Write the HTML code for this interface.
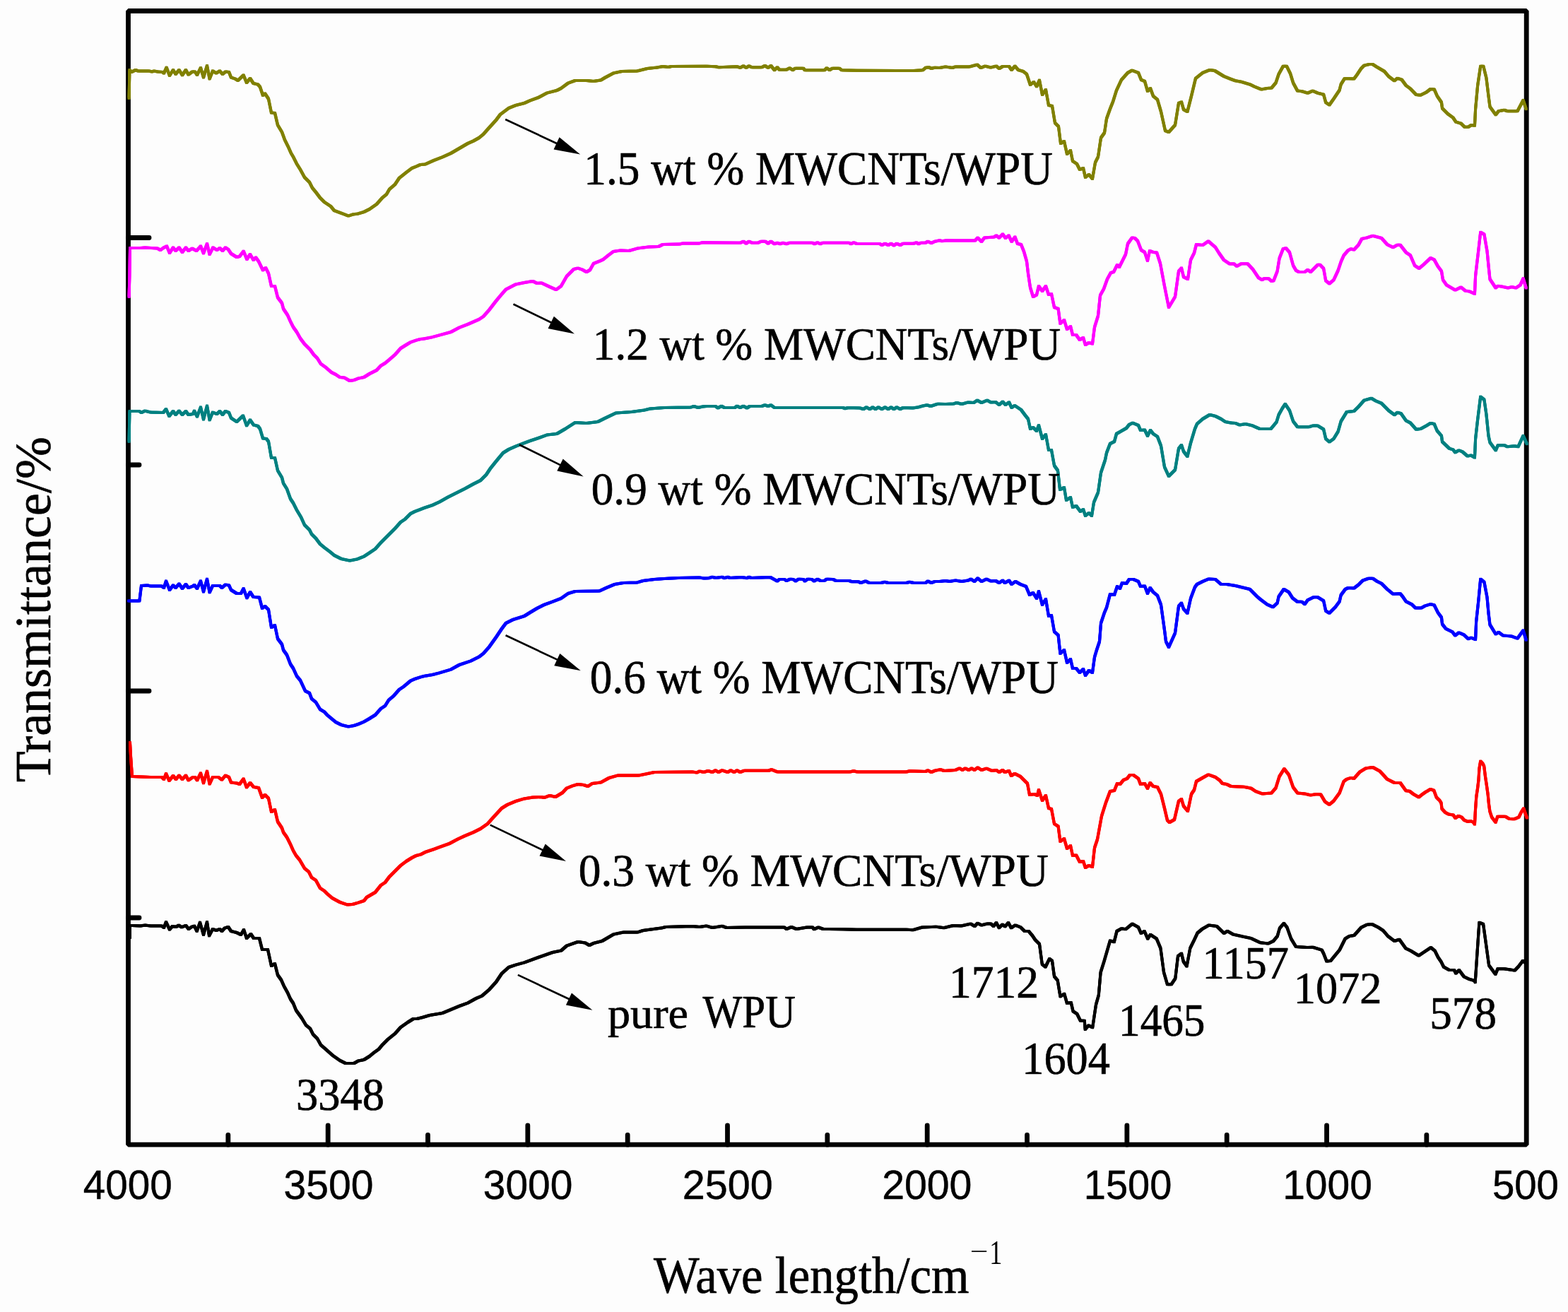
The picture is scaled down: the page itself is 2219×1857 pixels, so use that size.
<!DOCTYPE html><html><head><meta charset="utf-8"><title>FTIR spectra</title><style>html,body{margin:0;padding:0;background:#fdfdfd;overflow:hidden}svg{display:block}</style></head><body><svg width="2219" height="1857" viewBox="0 0 2219 1857"><rect width="2219" height="1857" fill="#fdfdfd"/><path d="M181.5,15.5 H2160.2 V1620.2 H181.5 Z" fill="none" stroke="#000" stroke-width="6.8" stroke-linejoin="bevel"/><g stroke="#000" stroke-width="6.8" stroke-linecap="round"><line x1="322.84" y1="1620.2" x2="322.84" y2="1606.5" /><line x1="464.17" y1="1620.2" x2="464.17" y2="1593.0" /><line x1="605.51" y1="1620.2" x2="605.51" y2="1606.5" /><line x1="746.84" y1="1620.2" x2="746.84" y2="1593.0" /><line x1="888.18" y1="1620.2" x2="888.18" y2="1606.5" /><line x1="1029.51" y1="1620.2" x2="1029.51" y2="1593.0" /><line x1="1170.85" y1="1620.2" x2="1170.85" y2="1606.5" /><line x1="1312.19" y1="1620.2" x2="1312.19" y2="1593.0" /><line x1="1453.52" y1="1620.2" x2="1453.52" y2="1606.5" /><line x1="1594.86" y1="1620.2" x2="1594.86" y2="1593.0" /><line x1="1736.19" y1="1620.2" x2="1736.19" y2="1606.5" /><line x1="1877.53" y1="1620.2" x2="1877.53" y2="1593.0" /><line x1="2018.86" y1="1620.2" x2="2018.86" y2="1606.5" /><line x1="181.5" y1="336.5" x2="211.0" y2="336.5" /><line x1="181.5" y1="658" x2="197.0" y2="658" /><line x1="181.5" y1="978" x2="211.0" y2="978" /><line x1="181.5" y1="1299" x2="197.0" y2="1299" /></g><defs><path id="c0" d="M182.6,139.0 L183.4,99.0 L186.0,102.0 L192.0,99.0 L195.0,100.4 L211.0,100.4 L215.0,101.6 L218.0,100.4 L223.0,101.6 L230.0,102.0 L232.0,103.6 L235.6,95.6 L240.0,107.0 L245.0,99.0 L248.6,105.0 L253.4,99.0 L258.0,106.4 L263.0,99.0 L266.6,105.6 L272.0,101.6 L276.0,101.6 L279.0,106.0 L284.0,96.0 L288.0,109.6 L293.0,93.0 L296.6,111.6 L301.0,100.4 L306.0,103.6 L311.0,100.4 L315.0,105.0 L319.0,101.6 L324.0,102.0 L327.0,109.6 L333.0,111.6 L336.6,114.0 L344.6,106.4 L349.0,117.0 L354.0,111.0 L358.6,118.0 L365.0,119.6 L368.0,123.0 L372.0,135.0 L375.0,132.4 L380.0,140.0 L384.0,159.6 L389.0,160.0 L393.0,177.0 L399.0,187.0 L403.0,198.0 L408.0,208.0 L412.0,217.0 L415.0,222.0 L420.0,232.0 L425.0,240.0 L431.0,251.0 L438.0,258.0 L442.0,266.0 L447.0,272.0 L453.0,280.0 L459.0,286.0 L468.0,292.0 L473.0,298.0 L481.0,301.0 L488.0,303.6 L493.0,305.6 L499.0,303.6 L507.0,302.4 L515.0,300.0 L523.0,296.0 L533.0,289.0 L541.0,280.0 L547.0,275.0 L551.0,268.0 L559.0,261.0 L565.0,252.0 L575.0,244.0 L583.0,238.0 L589.0,235.6 L595.0,233.0 L602.0,232.4 L614.0,227.0 L626.0,222.4 L638.0,217.0 L650.0,210.0 L662.0,203.0 L670.0,199.5 L678.0,195.0 L684.0,190.0 L692.0,181.0 L702.0,170.0 L708.0,162.0 L720.0,153.0 L730.0,149.0 L742.0,146.0 L750.0,142.4 L762.0,138.0 L774.0,131.6 L788.0,128.0 L794.0,125.0 L804.0,117.6 L814.0,114.0 L830.0,114.0 L840.0,115.0 L850.0,113.6 L856.0,110.0 L868.0,103.6 L880.0,101.0 L902.0,100.4 L916.0,97.0 L930.0,95.6 L938.0,94.0 L946.0,95.0 L950.0,94.0 L1000.0,93.7 L1013.0,94.2 L1017.0,95.3 L1043.0,94.2 L1047.5,95.8 L1052.0,93.3 L1056.0,95.8 L1060.0,93.3 L1064.0,95.3 L1078.0,95.3 L1082.5,93.0 L1087.0,95.8 L1091.0,93.0 L1096.0,99.2 L1100.0,95.3 L1103.0,98.7 L1113.0,98.7 L1117.5,96.3 L1122.0,99.2 L1125.0,96.7 L1137.0,96.7 L1139.0,99.2 L1167.0,99.2 L1170.0,96.3 L1174.0,99.2 L1178.0,96.7 L1188.0,96.7 L1191.0,99.2 L1212.0,99.7 L1283.0,100.0 L1293.0,100.0 L1306.0,99.2 L1310.0,95.8 L1315.0,95.3 L1318.0,97.0 L1322.0,95.8 L1330.0,96.0 L1338.0,94.4 L1348.0,96.0 L1352.0,94.4 L1372.0,94.4 L1383.0,91.6 L1388.0,96.0 L1394.0,93.6 L1402.0,95.6 L1410.0,93.6 L1414.0,97.0 L1419.0,94.0 L1428.0,94.0 L1431.6,99.0 L1436.4,93.6 L1441.0,99.0 L1448.0,101.0 L1453.0,105.0 L1458.0,120.0 L1463.0,116.0 L1467.0,122.4 L1471.0,113.6 L1475.0,134.0 L1480.0,127.0 L1484.0,149.0 L1489.0,150.0 L1493.0,174.0 L1498.0,179.0 L1501.0,203.0 L1506.0,200.0 L1510.0,218.0 L1515.0,213.0 L1518.0,228.0 L1524.0,232.0 L1528.0,240.0 L1533.0,238.0 L1536.0,251.0 L1541.0,247.0 L1546.0,253.0 L1550.0,230.0 L1554.0,222.0 L1558.0,195.0 L1563.0,188.0 L1566.0,168.0 L1571.0,154.0 L1575.0,144.0 L1580.0,128.0 L1587.0,113.0 L1596.0,103.0 L1602.0,99.6 L1611.0,103.0 L1615.0,113.0 L1620.0,115.0 L1624.0,129.0 L1628.0,125.0 L1632.0,136.0 L1638.0,141.0 L1643.0,158.0 L1649.0,185.0 L1654.0,187.0 L1663.0,177.0 L1668.0,146.0 L1672.0,144.4 L1675.0,155.0 L1680.4,158.0 L1686.0,136.0 L1692.0,111.0 L1702.0,103.0 L1712.0,99.0 L1719.0,100.0 L1732.0,108.0 L1742.0,112.0 L1748.2,114.3 L1756.4,115.7 L1769.7,119.8 L1774.8,122.4 L1785.0,126.5 L1793.2,125.1 L1799.4,124.5 L1805.5,117.3 L1809.6,105.0 L1815.8,93.8 L1820.9,93.8 L1826.0,104.0 L1830.1,117.3 L1836.2,128.6 L1842.4,129.2 L1850.6,131.7 L1857.7,128.6 L1864.9,131.7 L1873.1,133.7 L1876.2,145.0 L1881.3,148.5 L1887.4,139.9 L1895.6,127.6 L1897.7,119.4 L1902.8,111.2 L1908.9,111.2 L1916.1,111.6 L1920.2,106.1 L1926.3,96.9 L1930.4,92.8 L1937.6,91.1 L1942.7,91.1 L1947.8,94.4 L1959.1,101.0 L1965.2,108.1 L1973.4,114.3 L1977.5,110.8 L1983.7,112.8 L1989.8,121.0 L1995.9,125.5 L2004.1,134.1 L2010.3,134.7 L2018.5,130.6 L2024.6,125.9 L2029.7,126.5 L2033.8,135.8 L2040.0,145.0 L2041.0,153.2 L2049.2,161.4 L2056.3,166.5 L2060.4,172.6 L2067.6,174.7 L2072.7,179.8 L2077.8,179.8 L2081.9,177.1 L2087.0,177.7 L2088.1,154.2 L2091.1,121.4 L2095.2,93.8 L2099.3,93.8 L2103.4,110.2 L2106.5,135.8 L2108.5,151.1 L2116.7,162.4 L2120.8,157.3 L2129.0,155.8 L2133.1,157.3 L2147.5,157.3 L2155.6,141.9 L2159.7,154.2"/><path id="c1" d="M182.6,420.0 L183.4,390.0 L184.0,351.0 L187.0,351.0 L199.0,351.0 L205.0,350.4 L223.0,351.6 L227.0,354.0 L231.0,351.0 L236.0,348.4 L240.0,358.0 L245.0,350.4 L248.6,355.0 L253.4,350.4 L258.0,357.0 L263.0,350.4 L266.6,355.0 L272.0,351.6 L278.0,355.0 L284.0,348.4 L288.0,358.4 L293.0,345.0 L296.6,360.0 L301.4,350.4 L307.0,354.0 L311.0,351.0 L315.0,355.0 L319.0,350.4 L323.0,353.0 L327.0,359.0 L335.0,364.0 L339.0,363.0 L344.6,355.6 L349.4,367.0 L354.0,360.0 L358.6,368.0 L362.0,364.4 L366.0,370.0 L372.0,382.4 L376.0,379.0 L380.0,387.0 L384.0,405.0 L389.0,405.0 L393.0,421.0 L399.0,429.0 L401.0,437.0 L407.0,446.0 L411.0,455.0 L415.0,463.0 L420.0,470.0 L425.0,479.0 L431.0,487.0 L439.0,495.0 L444.0,502.0 L449.0,507.0 L454.0,515.0 L461.0,520.0 L469.0,527.0 L475.0,530.0 L481.0,534.0 L487.0,534.4 L495.0,539.0 L501.0,538.0 L507.0,535.6 L515.0,534.0 L523.0,529.0 L533.0,524.0 L539.0,517.6 L545.0,514.0 L551.0,509.0 L559.0,502.0 L567.0,493.0 L575.0,488.0 L581.0,484.4 L589.0,481.6 L595.0,480.0 L600.0,479.6 L610.0,477.6 L622.0,474.4 L638.0,470.0 L650.0,463.6 L662.0,459.0 L678.0,452.0 L684.0,448.0 L692.0,439.0 L702.0,426.0 L710.0,416.4 L716.0,409.6 L730.0,402.4 L742.0,400.0 L754.0,398.0 L760.0,401.0 L766.0,400.4 L778.0,406.0 L787.0,410.0 L794.0,405.0 L802.0,391.0 L812.0,381.0 L818.0,379.6 L824.0,381.6 L830.0,385.0 L835.0,382.0 L840.0,373.0 L850.0,369.0 L854.0,367.0 L860.0,362.0 L868.0,356.0 L878.0,354.4 L890.0,355.0 L902.0,351.6 L918.0,349.6 L932.0,349.0 L938.0,346.0 L962.0,345.6 L966.0,344.4 L990.0,344.4 L994.0,343.2 L1048.0,343.7 L1052.0,341.7 L1056.0,344.7 L1060.0,341.7 L1064.0,343.7 L1073.0,343.7 L1077.0,341.7 L1083.0,341.7 L1087.0,344.7 L1091.0,341.7 L1096.0,345.3 L1100.0,343.7 L1104.0,345.3 L1108.0,343.7 L1113.0,345.3 L1117.0,343.7 L1150.0,343.7 L1152.5,345.3 L1157.0,343.3 L1161.0,345.3 L1164.0,343.7 L1202.0,343.7 L1204.0,345.3 L1208.0,343.3 L1212.5,345.0 L1245.0,345.0 L1248.0,347.0 L1252.5,344.7 L1257.0,347.0 L1261.0,344.7 L1265.0,347.5 L1269.0,344.7 L1274.0,347.0 L1278.0,344.7 L1293.0,344.7 L1297.0,343.3 L1300.0,345.3 L1303.0,343.7 L1310.0,343.7 L1313.0,341.7 L1318.0,344.2 L1323.0,341.7 L1330.0,340.3 L1333.0,341.3 L1340.0,340.3 L1350.0,340.6 L1380.0,340.6 L1383.6,336.6 L1389.0,342.0 L1393.0,336.6 L1407.0,335.4 L1410.0,333.4 L1414.0,336.6 L1419.0,331.4 L1423.0,337.0 L1427.6,333.4 L1431.6,342.0 L1436.4,335.4 L1440.0,345.0 L1445.0,346.0 L1449.0,356.0 L1453.0,370.0 L1455.0,387.0 L1458.0,407.0 L1462.0,420.0 L1467.0,417.4 L1470.0,405.0 L1475.0,412.0 L1480.0,405.0 L1484.0,417.0 L1488.0,416.0 L1492.0,435.0 L1497.6,437.0 L1500.4,458.0 L1506.0,453.0 L1510.0,466.0 L1515.0,462.0 L1518.0,474.0 L1523.0,474.0 L1528.0,481.0 L1533.0,478.0 L1536.0,488.0 L1541.0,485.0 L1546.0,486.6 L1549.0,463.0 L1554.0,447.0 L1557.0,418.0 L1562.0,409.0 L1567.0,395.0 L1572.0,386.0 L1576.0,385.0 L1581.0,375.0 L1584.0,378.0 L1590.0,366.0 L1593.0,360.0 L1596.0,345.0 L1602.0,336.6 L1606.0,337.0 L1610.0,341.0 L1615.0,354.0 L1620.0,357.0 L1624.0,369.0 L1627.0,355.0 L1632.0,357.0 L1637.0,357.4 L1642.0,373.0 L1648.0,405.0 L1654.0,435.0 L1663.0,420.0 L1668.0,384.0 L1672.0,379.4 L1675.0,392.0 L1681.0,395.0 L1685.0,368.0 L1690.0,358.0 L1693.0,346.0 L1702.0,347.0 L1710.0,341.4 L1720.0,350.0 L1725.0,358.0 L1732.0,368.0 L1740.0,373.4 L1746.1,373.3 L1750.2,376.8 L1756.4,373.3 L1765.6,373.3 L1772.8,380.9 L1781.0,393.2 L1786.1,396.2 L1789.1,394.2 L1795.3,394.2 L1799.4,397.9 L1802.4,397.3 L1807.6,383.9 L1810.6,365.5 L1815.8,352.2 L1819.9,351.2 L1825.0,357.3 L1830.1,375.8 L1834.2,382.9 L1838.3,385.0 L1846.5,385.0 L1850.6,381.9 L1854.7,385.0 L1864.9,374.7 L1868.0,374.7 L1873.1,379.9 L1876.2,397.3 L1881.3,401.4 L1887.4,396.2 L1893.6,382.9 L1897.7,370.6 L1901.7,361.4 L1907.9,354.3 L1912.0,352.2 L1916.1,353.6 L1922.2,347.1 L1927.3,337.9 L1934.5,336.4 L1942.7,333.8 L1955.0,336.9 L1963.2,346.1 L1971.4,350.2 L1977.5,346.7 L1981.6,346.7 L1989.8,357.3 L1995.9,361.4 L2002.1,375.8 L2008.2,379.9 L2014.4,374.7 L2024.6,365.1 L2029.7,367.6 L2034.8,376.8 L2040.0,383.9 L2042.0,396.2 L2047.1,403.4 L2059.4,410.6 L2067.6,406.5 L2073.7,411.6 L2079.9,412.6 L2087.0,415.7 L2088.1,390.1 L2092.2,355.3 L2095.2,328.7 L2100.4,331.7 L2104.5,355.3 L2106.5,375.8 L2108.5,395.2 L2116.7,407.5 L2119.8,404.8 L2124.9,405.4 L2134.1,407.5 L2139.3,406.1 L2145.4,407.5 L2151.5,403.4 L2155.6,394.2 L2159.7,407.5"/><path id="c2" d="M182.6,625.0 L183.4,582.0 L187.0,582.0 L197.0,582.0 L200.0,584.0 L205.0,581.6 L213.0,583.6 L231.0,584.0 L235.0,579.0 L239.4,589.0 L245.0,582.0 L248.6,587.0 L253.4,581.6 L258.0,587.0 L263.0,582.0 L266.6,587.0 L273.0,586.0 L275.0,581.6 L279.0,589.6 L284.0,576.4 L288.0,593.6 L293.0,574.4 L296.6,594.4 L301.0,583.6 L307.0,586.0 L311.0,582.0 L315.0,587.0 L319.0,582.0 L324.0,584.0 L327.0,591.6 L335.0,597.0 L344.0,588.4 L349.0,602.4 L354.0,594.4 L359.0,601.6 L365.0,603.0 L368.0,607.0 L372.0,620.4 L377.0,621.0 L380.0,625.0 L384.0,648.0 L389.0,648.0 L393.0,666.0 L399.0,676.0 L401.0,684.0 L406.0,692.0 L411.0,706.0 L415.0,712.0 L420.0,722.0 L426.0,732.0 L431.0,743.0 L438.0,750.0 L441.0,756.0 L447.0,762.0 L453.0,770.0 L459.0,775.0 L467.0,781.0 L473.0,786.0 L483.0,791.0 L495.0,793.6 L505.0,791.6 L515.0,787.6 L523.0,782.4 L531.0,777.0 L539.0,768.0 L547.0,760.0 L559.0,748.0 L567.0,739.0 L573.0,735.0 L581.0,727.0 L587.0,724.0 L595.0,721.0 L600.0,719.0 L612.0,715.0 L622.0,710.4 L634.0,703.6 L646.0,697.6 L658.0,691.6 L670.0,685.0 L680.0,680.0 L688.0,672.0 L694.0,663.0 L702.0,653.0 L712.0,641.0 L720.0,636.0 L730.0,631.6 L742.0,627.0 L750.0,624.0 L762.0,620.0 L774.0,615.6 L788.0,614.0 L800.0,607.0 L814.0,598.0 L830.0,599.0 L846.0,597.0 L856.0,592.0 L872.0,584.4 L894.0,583.0 L912.0,580.4 L920.0,578.4 L940.0,577.0 L978.0,576.4 L982.0,575.0 L988.0,577.0 L994.0,575.6 L1000.0,575.0 L1012.5,575.0 L1016.0,577.5 L1021.0,574.7 L1025.0,577.0 L1040.0,577.0 L1043.0,574.7 L1047.5,577.0 L1052.0,574.7 L1057.0,577.5 L1061.0,575.0 L1078.0,575.0 L1082.5,573.3 L1087.0,575.0 L1091.0,573.3 L1096.0,577.0 L1193.0,577.0 L1196.0,578.3 L1200.0,577.0 L1217.0,577.5 L1222.0,579.2 L1226.0,576.3 L1231.0,579.2 L1235.0,576.3 L1239.0,579.2 L1243.0,576.3 L1248.0,579.2 L1252.5,576.3 L1257.0,579.2 L1261.0,576.3 L1265.0,579.2 L1269.0,576.3 L1274.0,579.2 L1278.0,577.0 L1292.0,577.5 L1300.0,576.3 L1305.0,574.7 L1312.0,573.3 L1317.0,575.0 L1323.0,573.0 L1327.0,571.7 L1338.0,572.0 L1350.0,571.4 L1354.0,570.0 L1361.0,572.0 L1370.0,569.4 L1378.0,570.0 L1383.0,566.6 L1389.0,570.0 L1397.0,566.6 L1402.0,569.4 L1409.0,569.0 L1414.0,573.0 L1419.0,568.6 L1423.0,573.0 L1428.0,569.4 L1431.6,577.0 L1436.0,574.0 L1445.0,580.0 L1451.0,588.0 L1455.0,593.0 L1458.0,607.0 L1462.0,605.0 L1467.0,610.0 L1470.0,602.0 L1475.0,621.0 L1480.0,615.0 L1484.0,637.0 L1488.0,637.0 L1492.0,659.0 L1497.0,666.0 L1500.0,693.0 L1506.0,690.0 L1509.0,708.0 L1515.0,704.0 L1518.0,718.0 L1523.0,716.0 L1529.0,724.0 L1533.0,721.0 L1536.0,730.0 L1541.0,726.0 L1545.0,730.0 L1548.0,711.0 L1554.0,697.0 L1558.0,669.0 L1564.0,651.0 L1566.0,641.0 L1571.0,628.0 L1577.0,625.0 L1580.0,614.0 L1586.0,610.6 L1594.0,606.0 L1598.0,601.0 L1603.0,598.6 L1611.0,602.0 L1614.0,609.0 L1620.0,608.6 L1624.0,617.0 L1628.0,609.0 L1632.0,614.0 L1638.0,618.0 L1643.0,631.0 L1648.0,661.0 L1654.0,674.0 L1663.0,665.0 L1668.0,635.0 L1672.0,630.0 L1675.0,639.0 L1680.4,646.0 L1685.0,627.0 L1691.0,607.0 L1694.0,600.0 L1702.0,593.0 L1712.0,587.0 L1720.0,589.0 L1728.0,593.0 L1734.0,597.0 L1742.0,598.6 L1748.2,598.9 L1754.3,601.5 L1762.5,600.1 L1772.8,602.6 L1783.0,607.1 L1798.4,607.1 L1806.5,597.4 L1809.6,587.2 L1814.7,578.0 L1818.8,571.9 L1825.0,581.1 L1830.1,596.4 L1836.2,604.2 L1852.6,604.2 L1857.7,602.6 L1864.9,602.6 L1873.1,607.7 L1876.2,621.0 L1881.3,625.5 L1887.4,621.0 L1893.6,610.8 L1897.7,596.4 L1905.8,583.1 L1916.1,582.1 L1922.2,576.0 L1930.4,566.7 L1940.7,563.7 L1946.8,567.4 L1955.0,570.8 L1965.2,581.1 L1973.4,587.2 L1977.5,583.7 L1982.6,585.2 L1989.8,595.4 L1995.9,598.5 L2004.1,607.7 L2010.3,607.1 L2018.5,602.6 L2024.6,598.9 L2029.7,600.1 L2033.8,609.7 L2040.0,616.9 L2041.0,625.1 L2051.2,634.9 L2056.3,636.4 L2059.4,640.4 L2064.5,637.4 L2069.6,639.4 L2076.8,645.6 L2081.9,644.5 L2087.0,647.6 L2088.1,621.0 L2091.1,594.4 L2095.2,561.6 L2100.4,565.7 L2103.4,586.2 L2106.5,616.9 L2108.5,626.1 L2116.7,637.4 L2119.8,630.2 L2129.0,630.2 L2133.1,632.3 L2143.4,631.2 L2148.5,632.3 L2155.6,616.9 L2160.8,628.2"/><path id="c3" d="M182.0,850.4 L197.4,850.4 L200.0,829.0 L209.0,828.4 L213.0,829.6 L229.0,829.6 L232.0,832.0 L235.0,822.4 L240.0,835.0 L245.0,828.4 L248.6,832.0 L253.4,826.4 L258.0,833.0 L263.0,827.0 L266.6,832.0 L273.0,829.6 L275.0,828.0 L279.0,833.0 L284.0,822.4 L288.0,837.6 L293.0,819.6 L296.6,838.4 L301.0,829.0 L311.0,829.0 L314.0,832.0 L319.0,827.6 L324.0,828.4 L327.0,835.0 L335.0,840.0 L341.0,840.0 L344.6,833.0 L349.4,846.4 L354.0,838.0 L358.6,845.0 L367.0,845.6 L371.0,861.0 L375.0,858.0 L380.0,863.0 L384.0,888.0 L389.0,885.0 L393.0,904.0 L399.0,912.0 L401.0,920.0 L406.0,927.0 L411.0,940.0 L415.0,946.0 L420.0,957.0 L425.0,963.0 L432.0,978.0 L438.0,981.0 L441.0,989.0 L447.0,994.0 L453.0,1004.0 L459.0,1007.6 L463.0,1012.0 L469.0,1017.0 L475.0,1022.0 L483.0,1026.0 L493.0,1028.4 L501.0,1027.0 L507.0,1025.0 L515.0,1021.6 L523.0,1017.0 L531.0,1012.0 L539.0,1003.0 L545.0,999.0 L550.0,991.0 L557.0,985.0 L565.0,976.0 L571.0,972.0 L581.0,963.6 L587.0,961.0 L595.0,958.4 L600.0,957.0 L612.0,955.0 L622.0,952.4 L638.0,947.6 L650.0,941.0 L666.0,935.6 L678.0,929.6 L684.0,925.0 L692.0,916.0 L702.0,902.0 L710.0,890.0 L716.0,882.0 L726.0,877.0 L742.0,872.0 L750.0,867.0 L760.0,861.0 L770.0,856.0 L782.0,851.6 L794.0,847.0 L804.0,840.0 L814.0,837.0 L848.0,836.6 L858.0,832.0 L870.0,827.0 L882.0,825.0 L902.0,824.4 L910.0,822.0 L926.0,820.0 L940.0,819.0 L960.0,818.0 L990.0,817.6 L996.0,818.4 L1003.0,818.3 L1008.0,816.7 L1013.0,818.0 L1022.0,816.7 L1025.0,818.3 L1030.0,816.7 L1033.0,818.0 L1050.0,817.0 L1057.0,818.3 L1060.0,816.7 L1063.0,818.0 L1090.0,817.0 L1097.0,820.8 L1100.0,822.5 L1103.0,820.0 L1110.0,820.0 L1113.0,822.0 L1118.0,819.7 L1122.5,820.0 L1126.0,822.5 L1130.0,819.7 L1137.0,820.0 L1139.0,822.5 L1143.0,819.7 L1149.0,820.0 L1152.0,822.5 L1157.0,819.7 L1161.0,822.0 L1167.0,821.7 L1170.0,819.7 L1179.0,820.0 L1183.0,822.0 L1202.0,822.0 L1205.0,823.3 L1215.0,823.3 L1218.0,825.0 L1225.0,822.5 L1230.0,825.0 L1247.0,825.0 L1252.0,823.7 L1257.0,825.0 L1283.0,825.0 L1287.0,823.7 L1293.0,825.0 L1310.0,825.0 L1313.0,822.5 L1318.0,825.0 L1323.0,823.0 L1330.0,823.0 L1338.0,822.0 L1344.0,823.0 L1352.0,821.6 L1361.0,823.0 L1370.0,821.6 L1374.0,819.6 L1379.0,823.0 L1383.6,818.4 L1389.0,823.0 L1396.0,819.6 L1402.0,822.4 L1409.0,822.0 L1414.0,825.0 L1419.0,821.6 L1422.0,825.0 L1428.0,821.6 L1431.6,827.0 L1437.0,823.0 L1444.0,827.0 L1452.0,830.0 L1457.0,842.0 L1462.0,839.0 L1467.0,847.0 L1470.0,837.0 L1475.0,856.0 L1480.0,848.0 L1484.0,872.0 L1488.0,871.0 L1492.0,894.0 L1497.6,899.0 L1500.4,925.0 L1506.0,920.0 L1510.0,938.0 L1515.0,933.0 L1518.0,946.0 L1523.0,946.0 L1528.0,952.0 L1533.0,947.0 L1536.0,956.0 L1541.0,949.0 L1546.0,952.0 L1549.0,930.0 L1552.0,920.0 L1556.0,908.0 L1558.0,882.0 L1563.0,867.0 L1566.0,860.0 L1571.0,841.0 L1577.0,842.0 L1581.0,830.0 L1585.0,833.0 L1588.0,825.0 L1594.0,826.0 L1598.0,820.0 L1604.0,820.0 L1611.0,823.0 L1614.0,830.0 L1620.0,829.6 L1624.0,840.0 L1627.6,832.0 L1632.0,838.0 L1638.0,843.0 L1643.0,856.0 L1648.0,892.0 L1650.0,908.0 L1654.0,916.0 L1663.0,896.0 L1668.0,858.0 L1672.0,853.6 L1675.0,862.0 L1680.4,868.0 L1685.0,847.0 L1691.0,831.0 L1694.0,827.0 L1702.0,823.0 L1710.0,819.6 L1720.0,820.0 L1728.0,827.0 L1736.0,827.0 L1742.0,828.0 L1748.2,828.9 L1756.4,831.0 L1768.7,834.0 L1778.9,844.3 L1785.0,849.4 L1793.2,855.5 L1801.4,859.2 L1807.6,853.5 L1809.6,844.3 L1816.8,834.0 L1823.9,838.1 L1829.1,846.3 L1836.2,851.8 L1842.4,851.8 L1846.5,855.1 L1850.6,849.4 L1858.8,845.3 L1864.9,845.3 L1873.1,850.4 L1876.2,864.7 L1881.3,867.8 L1889.5,859.6 L1895.6,851.4 L1897.7,842.2 L1903.8,834.0 L1907.9,832.0 L1916.1,832.6 L1922.2,827.9 L1928.4,821.7 L1936.6,818.7 L1942.7,818.7 L1948.8,822.8 L1955.0,825.8 L1963.2,834.0 L1971.4,840.8 L1981.6,840.2 L1985.7,845.3 L1989.8,851.4 L1998.0,855.5 L2003.1,860.6 L2011.3,860.6 L2016.4,857.6 L2024.6,855.1 L2029.7,856.5 L2034.8,866.8 L2040.0,874.0 L2041.0,883.2 L2046.1,889.9 L2055.3,894.4 L2059.4,899.5 L2064.5,895.4 L2071.7,898.5 L2077.8,904.3 L2081.9,902.6 L2088.1,905.1 L2089.1,880.1 L2092.2,851.4 L2095.2,819.7 L2100.4,823.8 L2104.5,845.3 L2106.5,867.8 L2108.5,884.2 L2116.7,897.5 L2120.8,894.8 L2127.0,899.5 L2139.3,900.6 L2147.5,903.6 L2155.6,892.4 L2159.7,905.7"/><path id="c4" d="M184.0,1051.0 L185.0,1070.0 L187.0,1099.0 L213.0,1100.0 L229.0,1100.0 L232.0,1103.0 L235.0,1095.0 L239.4,1105.0 L245.0,1098.0 L249.0,1103.0 L253.4,1097.6 L258.0,1103.0 L263.0,1097.6 L266.6,1104.4 L273.0,1100.0 L276.0,1100.0 L279.0,1104.4 L284.0,1094.4 L288.0,1108.4 L293.0,1091.6 L296.6,1109.6 L301.0,1100.0 L309.0,1100.0 L314.0,1103.6 L319.0,1097.6 L324.0,1100.0 L327.0,1107.6 L335.0,1108.4 L339.0,1110.0 L344.6,1102.4 L349.0,1114.4 L354.0,1108.0 L359.0,1114.0 L366.0,1115.0 L371.0,1129.0 L375.0,1125.0 L380.0,1130.0 L384.0,1149.0 L389.0,1146.0 L393.0,1163.0 L399.0,1172.0 L401.0,1178.0 L406.0,1185.0 L411.0,1195.0 L415.0,1204.0 L419.0,1211.0 L424.0,1217.0 L431.0,1229.0 L437.0,1234.0 L441.0,1242.0 L447.0,1246.0 L453.0,1257.0 L459.0,1261.0 L463.0,1265.0 L470.0,1271.0 L481.0,1277.0 L491.0,1280.4 L499.0,1280.0 L507.0,1277.6 L515.0,1275.0 L519.0,1270.0 L531.0,1263.0 L539.0,1253.0 L545.0,1249.0 L551.0,1241.0 L561.0,1231.0 L567.0,1225.0 L575.0,1219.0 L583.0,1214.0 L589.0,1211.0 L595.0,1209.6 L602.0,1206.0 L614.0,1202.0 L622.0,1199.0 L636.0,1194.0 L648.0,1187.6 L658.0,1183.0 L670.0,1178.0 L680.0,1173.0 L690.0,1166.0 L698.0,1157.0 L710.0,1144.0 L718.0,1139.0 L730.0,1134.0 L742.0,1130.4 L754.0,1128.6 L766.0,1128.0 L770.0,1129.0 L778.0,1126.0 L786.0,1128.0 L796.0,1122.0 L802.0,1115.6 L810.0,1112.4 L818.0,1110.0 L826.0,1111.0 L832.0,1113.0 L838.0,1109.0 L850.0,1107.6 L862.0,1101.0 L874.0,1097.6 L904.0,1097.6 L914.0,1095.6 L926.0,1093.0 L980.0,1092.4 L986.0,1093.6 L990.0,1091.6 L996.0,1093.0 L1002.0,1091.0 L1008.0,1093.0 L1012.5,1090.3 L1016.7,1093.0 L1021.7,1090.3 L1030.0,1093.0 L1034.0,1090.3 L1039.0,1093.0 L1043.0,1090.3 L1047.5,1093.0 L1053.0,1090.8 L1088.0,1090.8 L1091.7,1089.2 L1100.0,1092.5 L1203.0,1092.5 L1208.0,1091.3 L1213.0,1092.5 L1283.0,1092.5 L1287.0,1091.3 L1310.0,1092.0 L1313.0,1090.3 L1318.0,1093.0 L1323.0,1090.8 L1331.0,1089.2 L1336.0,1091.0 L1352.0,1090.0 L1358.0,1087.4 L1362.0,1090.0 L1366.0,1087.4 L1371.0,1090.0 L1375.0,1087.4 L1379.0,1090.0 L1383.6,1086.4 L1389.0,1090.0 L1396.0,1087.6 L1404.0,1091.0 L1410.0,1090.0 L1414.0,1093.0 L1419.0,1090.0 L1422.0,1093.0 L1428.0,1091.0 L1431.0,1098.0 L1436.0,1095.0 L1444.0,1099.0 L1450.0,1105.0 L1454.0,1109.0 L1457.0,1125.0 L1464.0,1124.0 L1468.0,1126.0 L1470.0,1118.0 L1475.0,1133.0 L1480.0,1126.0 L1484.0,1144.0 L1488.0,1145.0 L1492.0,1166.0 L1497.6,1169.6 L1500.4,1191.0 L1506.0,1187.0 L1510.0,1201.0 L1515.0,1197.0 L1518.0,1211.0 L1523.0,1210.4 L1528.0,1220.0 L1533.0,1219.0 L1536.0,1228.0 L1541.0,1225.0 L1546.0,1227.0 L1549.0,1200.0 L1553.0,1188.0 L1557.0,1166.0 L1559.0,1155.0 L1565.0,1136.0 L1571.0,1120.0 L1577.0,1119.0 L1581.0,1109.0 L1585.0,1110.0 L1590.0,1104.0 L1595.0,1102.0 L1599.0,1097.0 L1604.0,1097.0 L1611.0,1102.0 L1614.0,1110.0 L1620.0,1109.0 L1624.0,1116.0 L1627.6,1108.0 L1632.0,1113.0 L1638.0,1114.0 L1643.0,1124.0 L1648.0,1144.0 L1652.0,1161.0 L1655.0,1164.0 L1662.0,1160.0 L1668.0,1134.0 L1672.0,1131.0 L1675.0,1141.0 L1681.0,1148.0 L1686.0,1124.0 L1690.0,1118.0 L1693.0,1106.0 L1700.0,1102.0 L1710.0,1096.4 L1720.0,1100.0 L1726.0,1104.4 L1730.0,1109.0 L1736.0,1110.0 L1742.0,1113.0 L1760.5,1113.8 L1770.7,1115.8 L1776.9,1120.0 L1786.0,1123.4 L1799.4,1122.4 L1805.5,1115.2 L1810.6,1098.8 L1817.4,1088.2 L1824.0,1096.8 L1830.0,1114.2 L1836.2,1122.4 L1846.5,1123.4 L1854.7,1125.4 L1862.8,1124.0 L1869.0,1124.4 L1875.1,1134.7 L1881.3,1138.8 L1887.4,1133.6 L1895.6,1122.4 L1901.7,1106.0 L1905.8,1102.9 L1912.0,1100.9 L1916.0,1101.9 L1924.3,1092.7 L1932.5,1087.6 L1942.7,1086.0 L1953.0,1091.7 L1963.2,1102.9 L1973.4,1108.0 L1981.6,1108.0 L1989.8,1119.3 L1994.6,1119.7 L2000.0,1123.8 L2007.8,1128.4 L2012.8,1124.3 L2017.3,1121.1 L2020.0,1119.7 L2024.2,1117.0 L2029.2,1118.8 L2032.8,1128.4 L2037.4,1133.0 L2039.6,1136.6 L2040.5,1144.8 L2045.6,1150.2 L2050.1,1152.5 L2056.5,1153.4 L2059.7,1158.0 L2063.8,1154.8 L2068.3,1156.6 L2072.0,1160.7 L2077.4,1163.0 L2081.0,1162.1 L2084.7,1163.4 L2087.0,1166.6 L2087.9,1147.5 L2089.3,1127.5 L2091.1,1115.6 L2092.5,1103.8 L2093.4,1088.0 L2095.2,1077.4 L2098.5,1081.0 L2100.2,1084.5 L2102.0,1099.2 L2103.8,1111.1 L2105.7,1124.7 L2107.0,1138.4 L2108.4,1148.4 L2111.1,1156.6 L2116.6,1163.9 L2119.3,1155.7 L2130.3,1155.7 L2135.7,1158.9 L2143.0,1159.3 L2149.4,1156.6 L2153.0,1149.3 L2156.2,1144.3 L2160.8,1157.5"/><path id="c5" d="M184.0,1327.0 L184.0,1310.0 L187.0,1310.0 L199.0,1310.6 L205.0,1309.6 L213.0,1310.6 L229.0,1310.6 L232.0,1313.0 L235.0,1305.0 L240.0,1315.6 L244.0,1311.0 L249.0,1312.0 L253.0,1309.6 L257.0,1312.4 L263.0,1310.0 L267.0,1315.0 L271.0,1312.0 L275.0,1310.6 L278.6,1318.0 L283.0,1305.6 L288.0,1323.0 L293.0,1305.0 L296.0,1324.4 L301.0,1315.0 L306.0,1317.0 L311.0,1315.0 L314.0,1318.0 L318.0,1313.6 L323.0,1312.0 L327.0,1318.0 L335.0,1320.0 L341.0,1323.0 L345.0,1316.0 L349.0,1328.0 L355.0,1322.0 L359.0,1328.0 L367.0,1328.0 L371.0,1344.0 L379.0,1344.0 L384.0,1367.0 L389.0,1364.0 L393.0,1380.0 L398.0,1387.0 L402.0,1396.0 L407.0,1405.0 L411.0,1414.0 L415.0,1420.0 L419.0,1430.0 L427.0,1441.0 L433.0,1451.0 L439.0,1456.0 L443.0,1464.0 L449.0,1470.0 L454.0,1479.0 L462.0,1486.0 L471.0,1494.0 L481.0,1501.0 L489.0,1505.0 L501.0,1505.0 L507.0,1501.6 L515.0,1500.0 L523.0,1495.0 L529.0,1490.0 L536.0,1485.0 L541.0,1479.0 L549.0,1471.0 L559.0,1463.0 L567.0,1454.0 L577.0,1447.0 L585.0,1442.0 L590.0,1442.0 L598.0,1440.0 L608.0,1437.0 L626.0,1434.0 L638.0,1429.0 L650.0,1424.0 L662.0,1419.6 L674.0,1413.0 L682.0,1409.6 L692.0,1401.0 L702.0,1390.0 L710.0,1378.0 L720.0,1369.0 L730.0,1365.6 L742.0,1362.4 L762.0,1355.0 L782.0,1348.0 L794.0,1345.6 L802.0,1338.6 L818.0,1333.0 L828.0,1334.4 L834.0,1338.0 L840.0,1335.0 L852.0,1332.0 L868.0,1322.6 L882.0,1319.6 L902.0,1319.6 L910.0,1317.0 L936.0,1313.6 L942.0,1312.0 L980.0,1311.0 L990.0,1312.0 L1000.0,1310.6 L1008.0,1313.0 L1022.0,1310.8 L1028.0,1313.0 L1055.0,1312.5 L1110.0,1312.5 L1113.0,1315.0 L1120.0,1312.0 L1127.0,1315.0 L1142.0,1312.5 L1150.0,1312.5 L1152.0,1315.3 L1158.0,1312.5 L1165.0,1315.0 L1173.0,1315.0 L1193.0,1315.3 L1212.0,1315.8 L1283.0,1315.8 L1292.0,1316.3 L1305.0,1312.5 L1325.0,1311.7 L1335.7,1313.3 L1349.0,1310.0 L1360.5,1310.5 L1373.8,1307.6 L1379.5,1311.0 L1383.3,1306.7 L1389.0,1309.5 L1396.7,1307.6 L1402.4,1307.6 L1406.0,1311.0 L1410.0,1306.0 L1413.8,1313.3 L1418.6,1308.6 L1422.4,1311.4 L1427.0,1306.0 L1431.0,1313.3 L1436.7,1309.5 L1444.3,1312.4 L1450.0,1318.0 L1455.7,1318.0 L1461.4,1324.8 L1465.2,1330.5 L1471.0,1336.2 L1474.8,1364.8 L1479.5,1368.6 L1485.2,1357.0 L1489.0,1360.0 L1492.0,1382.0 L1496.7,1387.6 L1500.5,1410.5 L1506.2,1406.7 L1510.0,1420.0 L1515.7,1419.0 L1518.6,1431.4 L1524.3,1435.2 L1529.0,1444.8 L1534.8,1444.8 L1535.7,1457.0 L1540.5,1451.4 L1546.2,1454.3 L1551.0,1422.0 L1554.8,1408.6 L1557.6,1376.2 L1562.4,1361.0 L1571.0,1331.4 L1576.7,1333.3 L1580.5,1318.0 L1587.0,1314.3 L1593.0,1315.2 L1602.4,1307.6 L1611.0,1312.4 L1614.8,1321.0 L1619.5,1318.0 L1624.3,1328.6 L1628.0,1322.9 L1636.7,1328.6 L1642.4,1342.0 L1647.0,1376.2 L1652.0,1393.3 L1657.6,1393.3 L1663.3,1384.8 L1667.0,1353.3 L1672.0,1349.5 L1674.8,1361.0 L1679.5,1367.6 L1684.3,1342.0 L1690.0,1330.5 L1694.6,1320.6 L1701.4,1314.9 L1710.6,1309.6 L1722.0,1311.0 L1732.3,1321.0 L1736.9,1317.8 L1744.9,1322.4 L1758.6,1325.6 L1770.0,1327.9 L1783.7,1334.3 L1795.0,1335.4 L1802.0,1332.0 L1807.7,1325.1 L1811.0,1313.7 L1816.9,1306.9 L1821.4,1312.6 L1827.1,1328.6 L1834.0,1340.0 L1850.0,1341.1 L1858.0,1340.7 L1870.6,1344.6 L1872.9,1349.1 L1877.4,1360.6 L1883.1,1359.9 L1895.7,1344.6 L1903.7,1328.6 L1909.4,1325.1 L1916.3,1324.0 L1926.6,1312.6 L1934.6,1308.7 L1941.4,1308.0 L1950.6,1312.6 L1957.4,1317.1 L1964.3,1325.1 L1973.4,1332.0 L1980.3,1329.7 L1989.4,1342.3 L1996.3,1345.7 L2007.7,1352.6 L2014.6,1348.0 L2024.9,1341.1 L2030.6,1345.7 L2035.1,1354.9 L2039.7,1361.7 L2043.1,1368.6 L2051.1,1373.1 L2058.0,1373.1 L2060.3,1377.7 L2064.9,1373.1 L2071.7,1382.3 L2078.6,1385.7 L2086.6,1388.0 L2087.7,1390.3 L2093.4,1305.7 L2099.1,1308.0 L2107.1,1366.3 L2116.3,1378.9 L2119.7,1370.9 L2128.9,1371.3 L2143.7,1373.6 L2149.4,1367.4 L2155.1,1359.9 L2160.0,1364.0"/></defs><g fill="none" stroke="#808000" stroke-linejoin="round" stroke-linecap="round"><use href="#c0" stroke-width="4"/><use href="#c0" transform="translate(1.2,1.2)" stroke-width="1.6"/><use href="#c0" transform="translate(1.2,-1.2)" stroke-width="1.6"/><use href="#c0" transform="translate(-1.2,1.2)" stroke-width="1.6"/><use href="#c0" transform="translate(-1.2,-1.2)" stroke-width="1.6"/></g><g fill="none" stroke="#ff00ff" stroke-linejoin="round" stroke-linecap="round"><use href="#c1" stroke-width="4"/><use href="#c1" transform="translate(1.2,1.2)" stroke-width="1.6"/><use href="#c1" transform="translate(1.2,-1.2)" stroke-width="1.6"/><use href="#c1" transform="translate(-1.2,1.2)" stroke-width="1.6"/><use href="#c1" transform="translate(-1.2,-1.2)" stroke-width="1.6"/></g><g fill="none" stroke="#008080" stroke-linejoin="round" stroke-linecap="round"><use href="#c2" stroke-width="4"/><use href="#c2" transform="translate(1.2,1.2)" stroke-width="1.6"/><use href="#c2" transform="translate(1.2,-1.2)" stroke-width="1.6"/><use href="#c2" transform="translate(-1.2,1.2)" stroke-width="1.6"/><use href="#c2" transform="translate(-1.2,-1.2)" stroke-width="1.6"/></g><g fill="none" stroke="#0000ff" stroke-linejoin="round" stroke-linecap="round"><use href="#c3" stroke-width="4"/><use href="#c3" transform="translate(1.2,1.2)" stroke-width="1.6"/><use href="#c3" transform="translate(1.2,-1.2)" stroke-width="1.6"/><use href="#c3" transform="translate(-1.2,1.2)" stroke-width="1.6"/><use href="#c3" transform="translate(-1.2,-1.2)" stroke-width="1.6"/></g><g fill="none" stroke="#ff0000" stroke-linejoin="round" stroke-linecap="round"><use href="#c4" stroke-width="4"/><use href="#c4" transform="translate(1.2,1.2)" stroke-width="1.6"/><use href="#c4" transform="translate(1.2,-1.2)" stroke-width="1.6"/><use href="#c4" transform="translate(-1.2,1.2)" stroke-width="1.6"/><use href="#c4" transform="translate(-1.2,-1.2)" stroke-width="1.6"/></g><g fill="none" stroke="#000000" stroke-linejoin="round" stroke-linecap="round"><use href="#c5" stroke-width="4"/><use href="#c5" transform="translate(1.2,1.2)" stroke-width="1.6"/><use href="#c5" transform="translate(1.2,-1.2)" stroke-width="1.6"/><use href="#c5" transform="translate(-1.2,1.2)" stroke-width="1.6"/><use href="#c5" transform="translate(-1.2,-1.2)" stroke-width="1.6"/></g><line x1="715.2" y1="169" x2="789.40" y2="203.75" stroke="#000" stroke-width="2.7"/><path d="M821.10,218.60 L783.56,211.51 L791.62,194.30 Z" fill="#000"/><line x1="726.5" y1="430.5" x2="781.53" y2="457.28" stroke="#000" stroke-width="2.7"/><path d="M813.00,472.60 L775.57,464.95 L783.89,447.87 Z" fill="#000"/><line x1="735" y1="629.5" x2="794.33" y2="658.87" stroke="#000" stroke-width="2.7"/><path d="M825.70,674.40 L788.33,666.50 L796.76,649.47 Z" fill="#000"/><line x1="715.6" y1="899.3" x2="790.13" y2="934.39" stroke="#000" stroke-width="2.7"/><path d="M821.80,949.30 L784.28,942.13 L792.37,924.94 Z" fill="#000"/><line x1="693.7" y1="1167.6" x2="769.43" y2="1203.88" stroke="#000" stroke-width="2.7"/><path d="M801.00,1219.00 L763.53,1211.58 L771.74,1194.45 Z" fill="#000"/><line x1="732.9" y1="1379.9" x2="806.76" y2="1414.84" stroke="#000" stroke-width="2.7"/><path d="M838.40,1429.80 L800.89,1422.57 L809.01,1405.39 Z" fill="#000"/><text transform="translate(826.33,261.30) scale(0.9449,1.0098)" font-family="Liberation Serif, serif" font-size="67" stroke="#000" stroke-width="0.7">1.5 wt % MWCNTs/WPU</text><text transform="translate(838.84,509.30) scale(0.9427,0.9642)" font-family="Liberation Serif, serif" font-size="67" stroke="#000" stroke-width="0.7">1.2 wt % MWCNTs/WPU</text><text transform="translate(836.71,713.50) scale(0.9441,0.9802)" font-family="Liberation Serif, serif" font-size="67" stroke="#000" stroke-width="0.7">0.9 wt % MWCNTs/WPU</text><text transform="translate(834.81,981.30) scale(0.9441,1.0098)" font-family="Liberation Serif, serif" font-size="67" stroke="#000" stroke-width="0.7">0.6 wt % MWCNTs/WPU</text><text transform="translate(818.71,1253.50) scale(0.9468,0.9802)" font-family="Liberation Serif, serif" font-size="67" stroke="#000" stroke-width="0.7">0.3 wt % MWCNTs/WPU</text><text transform="translate(859.94,1455.16) scale(0.9586,0.9170)" font-family="Liberation Serif, serif" font-size="67" stroke="#000" stroke-width="0.7">pure</text><text transform="translate(994.60,1454.30) scale(0.8811,0.9688)" font-family="Liberation Serif, serif" font-size="67" stroke="#000" stroke-width="0.7">WPU</text><text transform="translate(419.10,1571.02) scale(0.9326,0.9804)" font-family="Liberation Serif, serif" font-size="67" stroke="#000" stroke-width="0.7">3348</text><text transform="translate(1343.01,1412.00) scale(0.9476,0.9867)" font-family="Liberation Serif, serif" font-size="67" stroke="#000" stroke-width="0.7">1712</text><text transform="translate(1446.32,1519.63) scale(0.9299,0.9696)" font-family="Liberation Serif, serif" font-size="67" stroke="#000" stroke-width="0.7">1604</text><text transform="translate(1583.01,1465.73) scale(0.9144,0.9739)" font-family="Liberation Serif, serif" font-size="67" stroke="#000" stroke-width="0.7">1465</text><text transform="translate(1701.51,1385.42) scale(0.9315,0.9800)" font-family="Liberation Serif, serif" font-size="67" stroke="#000" stroke-width="0.7">1157</text><text transform="translate(1830.72,1420.15) scale(0.9306,0.9522)" font-family="Liberation Serif, serif" font-size="67" stroke="#000" stroke-width="0.7">1072</text><text transform="translate(2023.33,1456.33) scale(0.9415,0.9739)" font-family="Liberation Serif, serif" font-size="67" stroke="#000" stroke-width="0.7">578</text><text transform="translate(924.90,1829.60) scale(0.9410,1.0084)" font-family="Liberation Serif, serif" font-size="73" stroke="#000" stroke-width="0.7">Wave length/cm</text><text transform="translate(1372.67,1783.10) scale(1.1667,0.9000)" font-family="Liberation Serif, serif" font-size="39" stroke="#000" stroke-width="0">−</text><text transform="translate(1400.21,1789.00) scale(0.9286,1.2692)" font-family="Liberation Serif, serif" font-size="39" stroke="#000" stroke-width="0">1</text><text transform="translate(117.66,1696.53) scale(0.9438,0.9698)" font-family="Liberation Sans, sans-serif" font-size="60" stroke="#000" stroke-width="0.5">4000</text><text transform="translate(401.50,1696.53) scale(0.9512,0.9698)" font-family="Liberation Sans, sans-serif" font-size="60" stroke="#000" stroke-width="0.5">3500</text><text transform="translate(683.80,1696.53) scale(0.9488,0.9698)" font-family="Liberation Sans, sans-serif" font-size="60" stroke="#000" stroke-width="0.5">3000</text><text transform="translate(965.72,1696.53) scale(0.9586,0.9698)" font-family="Liberation Sans, sans-serif" font-size="60" stroke="#000" stroke-width="0.5">2500</text><text transform="translate(1248.14,1696.53) scale(0.9539,0.9698)" font-family="Liberation Sans, sans-serif" font-size="60" stroke="#000" stroke-width="0.5">2000</text><text transform="translate(1533.77,1696.53) scale(0.9331,0.9698)" font-family="Liberation Sans, sans-serif" font-size="60" stroke="#000" stroke-width="0.5">1500</text><text transform="translate(1815.20,1696.53) scale(0.9488,0.9698)" font-family="Liberation Sans, sans-serif" font-size="60" stroke="#000" stroke-width="0.5">1000</text><text transform="translate(2111.88,1696.53) scale(0.9400,0.9698)" font-family="Liberation Sans, sans-serif" font-size="60" stroke="#000" stroke-width="0.5">500</text><text transform="translate(71.0,1107.3) rotate(-90)" font-family="Liberation Serif, serif" font-size="72" stroke="#000" stroke-width="0.7">Transmittance/%</text></svg></body></html>
